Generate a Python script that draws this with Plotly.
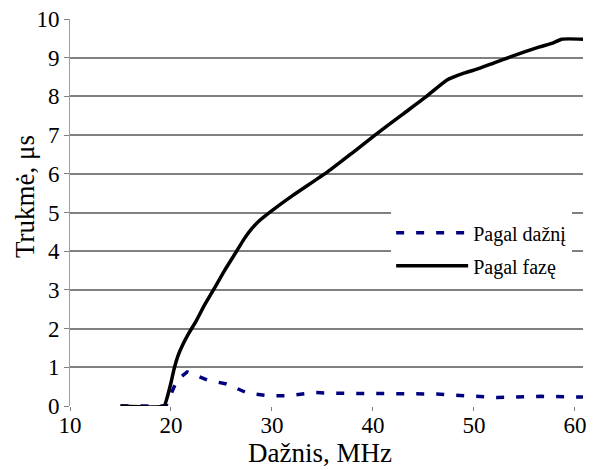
import plotly.graph_objects as go

# Pagal fazę (phase-based duration)
phase_x = [15, 19.3, 19.6, 20.0, 20.3, 20.7, 21.2, 21.7, 22.5, 23.3, 24.2, 25.3, 26.5, 27.2, 27.9, 28.8, 30.0,
           32.0, 35.5, 38.0, 40.2, 43.0, 45.3, 47.3, 49.0, 50.6, 52.0, 53.6, 55.0, 56.5, 57.8, 58.7, 60.8]
phase_y = [0, 0, 0.2, 0.6, 0.95, 1.3, 1.6, 1.85, 2.2, 2.6, 3.0, 3.5, 4.0, 4.3, 4.55, 4.8, 5.05,
           5.43, 6.05, 6.55, 7.0, 7.55, 8.0, 8.42, 8.6, 8.73, 8.87, 9.02, 9.15, 9.28, 9.38, 9.48, 9.48]

# Pagal dažnį (frequency-based duration)
freq_x = [15, 19.5, 20.6, 21.6, 23.6, 25.5, 27.6, 29.8, 31.8, 34.1, 36, 40, 42.4, 46.3, 48.2, 50.3, 52.3, 56.6, 60.8]
freq_y = [0, 0, 0.67, 0.88, 0.67, 0.57, 0.33, 0.26, 0.27, 0.35, 0.33, 0.33, 0.31, 0.31, 0.28, 0.24, 0.22, 0.25, 0.23]

x_ticks = [10, 20, 30, 40, 50, 60]
y_ticks = list(range(0, 11))

x_title = "Dažnis, MHz"
y_title = "Trukmė, μs"

serif = "Liberation Serif, Times New Roman, serif"

fig = go.Figure()
fig.add_trace(go.Scatter(
    x=freq_x, y=freq_y, mode="lines", name="Pagal dažnį",
    line=dict(color="#000080", width=3.5, dash="8px,12px"), legendgroup="a"))
fig.add_trace(go.Scatter(
    x=phase_x, y=phase_y, mode="lines", name="Pagal fazę", line_shape="spline",
    line=dict(color="black", width=3.5, smoothing=0.5), legendgroup="b"))

fig.update_layout(
    width=594, height=470,
    margin=dict(l=70, r=11, t=19, b=64),
    plot_bgcolor="white", paper_bgcolor="white",
    font=dict(family=serif, color="black", size=22),
    showlegend=True,
    legend=dict(x=0.626, y=0.525, xanchor="left", yanchor="top",
                font=dict(family=serif, size=20, color="black"),
                title=dict(text=" ", font=dict(family=serif, size=8)),
                bgcolor="white", tracegroupgap=4,
                traceorder="grouped", itemwidth=72),
    xaxis=dict(range=[10, 60.8], tickvals=x_ticks, showgrid=False, zeroline=False,
               showline=False, ticks="outside", ticklen=4, tickcolor="#808080",
               tickfont=dict(family=serif, size=23), automargin=False,
               ticklabelstandoff=-6),
    yaxis=dict(range=[0, 10.001], tickvals=y_ticks, showgrid=True, gridcolor="#808080", gridwidth=1.5,
               zeroline=False, showline=True, linecolor="#a0a0a0", linewidth=1,
               ticks="outside", ticklen=5, tickcolor="#808080",
               tickfont=dict(family=serif, size=23), automargin=False),
    annotations=[
        dict(text=x_title, xref="paper", yref="paper", x=0.487, y=-0.122,
             xanchor="center", yanchor="middle", showarrow=False,
             font=dict(family=serif, size=27, color="black")),
        dict(text=y_title, xref="paper", yref="paper", x=-0.0877, y=0.54,
             xanchor="center", yanchor="middle", textangle=-90, showarrow=False,
             font=dict(family=serif, size=27, color="black")),
    ],
)

# remove the default 8px page margin so the figure sits at the window's top-left corner
fig.write_html("out.html",
               config={"displayModeBar": False},
               post_script="document.body.style.margin='0';document.body.style.overflow='hidden';")
